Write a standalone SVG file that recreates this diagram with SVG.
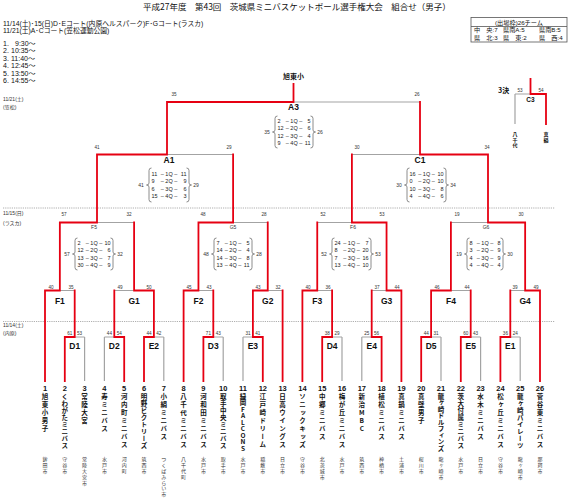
<svg xmlns="http://www.w3.org/2000/svg" width="570" height="500" viewBox="0 0 570 500">
<style>
text{font-family:"Liberation Sans","Noto Sans CJK JP",sans-serif;fill:#111}
.jp{font-family:"Noto Sans CJK JP","Liberation Sans",sans-serif}
.r{fill:none;stroke:#e60012;stroke-width:1.8;stroke-linecap:square}
.g{fill:none;stroke:#a3a3a3;stroke-width:1.2}
.dot{fill:none;stroke:#9a9a9a;stroke-width:0.8;stroke-dasharray:1.2 1}
.br{fill:none;stroke:#6e6e6e;stroke-width:0.8}
.sc{font-size:4.6px;text-anchor:middle;fill:#333}
.lb{font-size:8.5px;font-weight:bold;text-anchor:middle}
.lbs{font-size:5px;text-anchor:middle;fill:#333}
.q{font-size:5.5px;fill:#222}
.qm{text-anchor:middle}
.qe{text-anchor:end}
.tot{font-size:5px;text-anchor:middle;fill:#333}
.num{font-size:7.5px;font-weight:bold;text-anchor:middle}
.nm{font-family:"Noto Sans CJK JP",sans-serif;writing-mode:vertical-rl;text-orientation:upright;font-size:6.5px;font-weight:bold;letter-spacing:1.5px}
.n8{letter-spacing:0.6px}
.n9{letter-spacing:0px}
.n3{font-size:5px;letter-spacing:0.4px}
.ct{font-family:"Noto Sans CJK JP",sans-serif;writing-mode:vertical-rl;text-orientation:upright;font-size:5px;letter-spacing:0.8px;fill:#333}
.hd{font-size:6.8px}
.tm{font-size:7px}
.sm{font-size:5px;fill:#333}
.tb{fill:none;stroke:#555;stroke-width:0.8}
.tbt{font-size:6.2px}
</style>

<g id="header">
<text class="jp" x="143" y="9.5" font-size="8.5">平成27年度　第43回　茨城県ミニバスケットボール選手権大会　組合せ（男子）</text>
<text class="hd" x="3" y="25.5">11/14(土)･15(日)D･Eコート(内原ヘルスパーク)F･Gコート(ラスカ)</text>
<text class="hd" x="3" y="32.5">11/21(土)A･Cコート(笠松運動公園)</text>
<text class="tm" y="45.5"><tspan x="3">1.</tspan><tspan x="15">9:30～</tspan></text>
<text class="tm" y="53"><tspan x="3">2.</tspan><tspan x="11">10:35～</tspan></text>
<text class="tm" y="60.5"><tspan x="3">3.</tspan><tspan x="11">11:40～</tspan></text>
<text class="tm" y="68"><tspan x="3">4.</tspan><tspan x="11">12:45～</tspan></text>
<text class="tm" y="75.5"><tspan x="3">5.</tspan><tspan x="11">13:50～</tspan></text>
<text class="tm" y="83"><tspan x="3">6.</tspan><tspan x="11">14:55～</tspan></text>
<text class="sm" x="3" y="101">11/21(土)</text>
<text class="sm" x="3" y="108.7">(笠松)</text>
<text class="sm" x="3" y="215.3">11/15(日)</text>
<text class="sm" x="3" y="224.5">(ラスカ)</text>
<text class="sm" x="3" y="327">11/14(土)</text>
<text class="sm" x="3" y="335">(内原)</text>
</g>

<g id="quota">
<rect class="tb" x="471" y="17.5" width="96" height="24.5"/>
<line class="tb" x1="471" y1="26.5" x2="567" y2="26.5"/>
<text class="tbt" x="519" y="24.8" text-anchor="middle">(出場枠)26チーム</text>
<text class="tbt" x="474" y="32.3">中　央:7</text>
<text class="tbt" x="503" y="32.3">県南A:5</text>
<text class="tbt" x="539" y="32.3">県南B:5</text>
<text class="tbt" x="474" y="39.5">県　北:3</text>
<text class="tbt" x="503" y="39.5">県　東:2</text>
<text class="tbt" x="539" y="39.5">県　西:4</text>
</g>

<g id="dividers">
<line class="dot" x1="3" y1="208" x2="555" y2="208"/>
<line class="dot" x1="3" y1="321.5" x2="555" y2="321.5"/>
</g>

<g id="connectors">
<path class="g" d="M84.6,381V337 M104.4,381V337 M163.8,381V337 M223.2,381V337 M243,381V337 M342,381V337 M361.8,381V337 M441,381V337 M480.6,381V337 M520.2,381V337
M74.7,337H84.6 M104.4,337H114.3 M153.9,337H163.8 M213.3,337H223.2 M243,337H252.9 M332.1,337H342 M361.8,337H371.7 M431.1,337H441 M470.7,337H480.6 M510.3,337H520.2
M59.85,290.5H74.7 M114.3,290.5H134.1 M198.45,290.5H213.3 M267.75,290.5H282.6 M317.25,290.5H332.1 M371.7,290.5H386.55 M450.9,290.5H470.7 M510.3,290.5H525.15
M97,222.5H134.1 M233.1,222.5H267.75 M317.25,222.5H351.9 M450.9,222.5H488
M167,154.5H233.1 M351.9,154.5H420
M293.5,102H420
M515,94H530.5 M515,94V124"/>
<path class="r" d="M64.8,381V337 M124.2,381V337 M144,381V337 M203.4,381V337 M262.8,381V337 M322.2,381V337 M381.6,381V337 M421.2,381V337 M460.8,381V337 M500.4,381V337
M45,381V290.5 M183.6,381V290.5 M282.6,381V290.5 M302.4,381V290.5 M401.4,381V290.5 M540,381V290.5
M64.8,337H74.7 M114.3,337H124.2 M144,337H153.9 M203.4,337H213.3 M252.9,337H262.8 M322.2,337H332.1 M371.7,337H381.6 M421.2,337H431.1 M460.8,337H470.7 M500.4,337H510.3
M74.7,337V290.5 M114.3,337V290.5 M153.9,337V290.5 M213.3,337V290.5 M252.9,337V290.5 M332.1,337V290.5 M371.7,337V290.5 M431.1,337V290.5 M470.7,337V290.5 M510.3,337V290.5
M45,290.5H59.85 M134.1,290.5H153.9 M183.6,290.5H198.45 M252.9,290.5H267.75 M302.4,290.5H317.25 M386.55,290.5H401.4 M431.1,290.5H450.9 M525.15,290.5H540
M59.85,290.5V222.5 M134.1,290.5V222.5 M198.45,290.5V222.5 M267.75,290.5V222.5 M317.25,290.5V222.5 M386.55,290.5V222.5 M450.9,290.5V222.5 M525.15,290.5V222.5
M59.85,222.5H97 M198.45,222.5H233.1 M351.9,222.5H386.55 M488,222.5H525.15
M97,222.5V154.5 M233.1,222.5V154.5 M351.9,222.5V154.5 M488,222.5V154.5
M97,154.5H167 M420,154.5H488
M167,154.5V102 M420,154.5V102
M167,102H293.5 M293.5,102V84
M530.5,94H546 M546,94V124 M530.5,94V79"/>
</g>

<g id="winner">
<text class="jp" x="293.5" y="79" font-size="7" font-weight="bold" text-anchor="middle">旭東小</text>
</g>

<g id="A3">
<text class="lb" x="293.5" y="110">A3</text>
<text class="sc" x="174" y="95.5">35</text>
<text class="sc" x="417" y="95.5">26</text>
<path class="br" d="M277.5,116 Q275,116 275,118.5 V130 Q275,132 272.5,132 Q275,132 275,134 V145.5 Q275,148 277.5,148"/>
<path class="br" d="M310.5,116 Q313,116 313,118.5 V130 Q313,132 315.5,132 Q313,132 313,134 V145.5 Q313,148 310.5,148"/>
<text class="tot" x="267" y="133.8">35</text>
<text class="tot" x="320" y="133.8">26</text>
<text class="q" x="277.5" y="122.75">2</text><text class="q qm" x="294" y="122.75">– 1Q –</text><text class="q qe" x="310.5" y="122.75">5</text>
<text class="q" x="277.5" y="130.25">12</text><text class="q qm" x="294" y="130.25">– 2Q –</text><text class="q qe" x="310.5" y="130.25">6</text>
<text class="q" x="277.5" y="137.75">12</text><text class="q qm" x="294" y="137.75">– 3Q –</text><text class="q qe" x="310.5" y="137.75">4</text>
<text class="q" x="277.5" y="145.25">9</text><text class="q qm" x="294" y="145.25">– 4Q –</text><text class="q qe" x="310.5" y="145.25">11</text>
</g>

<g id="A1">
<text class="lb" x="169" y="163">A1</text>
<text class="sc" x="97" y="148.5">41</text>
<text class="sc" x="229" y="148.5">29</text>
<path class="br" d="M151.5,168 Q149,168 149,170.5 V183 Q149,185 146.5,185 Q149,185 149,187 V199.5 Q149,202 151.5,202"/>
<path class="br" d="M186.5,168 Q189,168 189,170.5 V183 Q189,185 191.5,185 Q189,185 189,187 V199.5 Q189,202 186.5,202"/>
<text class="tot" x="141" y="186.8">41</text>
<text class="tot" x="196" y="186.8">29</text>
<text class="q" x="151.5" y="175.75">11</text><text class="q qm" x="169" y="175.75">– 1Q –</text><text class="q qe" x="186.5" y="175.75">11</text>
<text class="q" x="151.5" y="183.25">9</text><text class="q qm" x="169" y="183.25">– 2Q –</text><text class="q qe" x="186.5" y="183.25">9</text>
<text class="q" x="151.5" y="190.75">6</text><text class="q qm" x="169" y="190.75">– 3Q –</text><text class="q qe" x="186.5" y="190.75">6</text>
<text class="q" x="151.5" y="198.25">15</text><text class="q qm" x="169" y="198.25">– 4Q –</text><text class="q qe" x="186.5" y="198.25">3</text>
</g>

<g id="C1">
<text class="lb" x="420" y="163">C1</text>
<text class="sc" x="357" y="148.5">30</text>
<text class="sc" x="487" y="148.5">34</text>
<path class="br" d="M409.5,168 Q407,168 407,170.5 V183 Q407,185 404.5,185 Q407,185 407,187 V199.5 Q407,202 409.5,202"/>
<path class="br" d="M443.5,168 Q446,168 446,170.5 V183 Q446,185 448.5,185 Q446,185 446,187 V199.5 Q446,202 443.5,202"/>
<text class="tot" x="399" y="186.8">30</text>
<text class="tot" x="453" y="186.8">34</text>
<text class="q" x="409.5" y="175.75">16</text><text class="q qm" x="426.5" y="175.75">– 1Q –</text><text class="q qe" x="443.5" y="175.75">10</text>
<text class="q" x="409.5" y="183.25">0</text><text class="q qm" x="426.5" y="183.25">– 2Q –</text><text class="q qe" x="443.5" y="183.25">10</text>
<text class="q" x="409.5" y="190.75">10</text><text class="q qm" x="426.5" y="190.75">– 3Q –</text><text class="q qe" x="443.5" y="190.75">8</text>
<text class="q" x="409.5" y="198.25">4</text><text class="q qm" x="426.5" y="198.25">– 4Q –</text><text class="q qe" x="443.5" y="198.25">6</text>
</g>

<g id="F5">
<text class="lbs" x="94" y="229">F5</text>
<text class="sc" x="64" y="215.5">57</text>
<text class="sc" x="129" y="215.5">32</text>
<path class="br" d="M77.5,238 Q75,238 75,240.5 V252 Q75,254 72.5,254 Q75,254 75,256 V267.5 Q75,270 77.5,270"/>
<path class="br" d="M110.5,238 Q113,238 113,240.5 V252 Q113,254 115.5,254 Q113,254 113,256 V267.5 Q113,270 110.5,270"/>
<text class="tot" x="67" y="255.8">57</text>
<text class="tot" x="120" y="255.8">32</text>
<text class="q" x="77.5" y="244.75">2</text><text class="q qm" x="94" y="244.75">– 1Q –</text><text class="q qe" x="110.5" y="244.75">10</text>
<text class="q" x="77.5" y="252.25">12</text><text class="q qm" x="94" y="252.25">– 2Q –</text><text class="q qe" x="110.5" y="252.25">6</text>
<text class="q" x="77.5" y="259.75">13</text><text class="q qm" x="94" y="259.75">– 3Q –</text><text class="q qe" x="110.5" y="259.75">7</text>
<text class="q" x="77.5" y="267.25">30</text><text class="q qm" x="94" y="267.25">– 4Q –</text><text class="q qe" x="110.5" y="267.25">9</text>
</g>

<g id="G5">
<text class="lbs" x="233" y="229">G5</text>
<text class="sc" x="203" y="215.5">48</text>
<text class="sc" x="264" y="215.5">28</text>
<path class="br" d="M216.5,238 Q214,238 214,240.5 V252 Q214,254 211.5,254 Q214,254 214,256 V267.5 Q214,270 216.5,270"/>
<path class="br" d="M249.5,238 Q252,238 252,240.5 V252 Q252,254 254.5,254 Q252,254 252,256 V267.5 Q252,270 249.5,270"/>
<text class="tot" x="206" y="255.8">48</text>
<text class="tot" x="259" y="255.8">28</text>
<text class="q" x="216.5" y="244.75">7</text><text class="q qm" x="233" y="244.75">– 1Q –</text><text class="q qe" x="249.5" y="244.75">5</text>
<text class="q" x="216.5" y="252.25">14</text><text class="q qm" x="233" y="252.25">– 2Q –</text><text class="q qe" x="249.5" y="252.25">4</text>
<text class="q" x="216.5" y="259.75">14</text><text class="q qm" x="233" y="259.75">– 3Q –</text><text class="q qe" x="249.5" y="259.75">8</text>
<text class="q" x="216.5" y="267.25">13</text><text class="q qm" x="233" y="267.25">– 4Q –</text><text class="q qe" x="249.5" y="267.25">11</text>
</g>

<g id="F6">
<text class="lbs" x="353" y="229">F6</text>
<text class="sc" x="323" y="215.5">52</text>
<text class="sc" x="382" y="215.5">53</text>
<path class="br" d="M334.5,238 Q332,238 332,240.5 V252 Q332,254 329.5,254 Q332,254 332,256 V267.5 Q332,270 334.5,270"/>
<path class="br" d="M368.5,238 Q371,238 371,240.5 V252 Q371,254 373.5,254 Q371,254 371,256 V267.5 Q371,270 368.5,270"/>
<text class="tot" x="324" y="255.8">52</text>
<text class="tot" x="378" y="255.8">53</text>
<text class="q" x="334.5" y="244.75">24</text><text class="q qm" x="351.5" y="244.75">– 1Q –</text><text class="q qe" x="368.5" y="244.75">7</text>
<text class="q" x="334.5" y="252.25">8</text><text class="q qm" x="351.5" y="252.25">– 2Q –</text><text class="q qe" x="368.5" y="252.25">20</text>
<text class="q" x="334.5" y="259.75">7</text><text class="q qm" x="351.5" y="259.75">– 3Q –</text><text class="q qe" x="368.5" y="259.75">16</text>
<text class="q" x="334.5" y="267.25">13</text><text class="q qm" x="351.5" y="267.25">– 4Q –</text><text class="q qe" x="368.5" y="267.25">10</text>
</g>

<g id="G6">
<text class="lbs" x="486" y="229">G6</text>
<text class="sc" x="457" y="215.5">19</text>
<text class="sc" x="521" y="215.5">30</text>
<path class="br" d="M469.5,238 Q467,238 467,240.5 V252 Q467,254 464.5,254 Q467,254 467,256 V267.5 Q467,270 469.5,270"/>
<path class="br" d="M500.5,238 Q503,238 503,240.5 V252 Q503,254 505.5,254 Q503,254 503,256 V267.5 Q503,270 500.5,270"/>
<text class="tot" x="459" y="255.8">19</text>
<text class="tot" x="510" y="255.8">30</text>
<text class="q" x="469.5" y="244.75">8</text><text class="q qm" x="485" y="244.75">– 1Q –</text><text class="q qe" x="500.5" y="244.75">8</text>
<text class="q" x="469.5" y="252.25">3</text><text class="q qm" x="485" y="252.25">– 2Q –</text><text class="q qe" x="500.5" y="252.25">9</text>
<text class="q" x="469.5" y="259.75">4</text><text class="q qm" x="485" y="259.75">– 3Q –</text><text class="q qe" x="500.5" y="259.75">9</text>
<text class="q" x="469.5" y="267.25">4</text><text class="q qm" x="485" y="267.25">– 4Q –</text><text class="q qe" x="500.5" y="267.25">4</text>
</g>

<g id="F1"><text class="lb" x="59.85" y="303.5">F1</text><text class="sc" x="51" y="288.8">40</text><text class="sc" x="71" y="288.8">35</text></g>
<g id="G1"><text class="lb" x="134.1" y="303.5">G1</text><text class="sc" x="120" y="288.8">49</text><text class="sc" x="149" y="288.8">50</text></g>
<g id="F2"><text class="lb" x="198.45" y="303.5">F2</text><text class="sc" x="189" y="288.8">45</text><text class="sc" x="209" y="288.8">43</text></g>
<g id="G2"><text class="lb" x="267.75" y="303.5">G2</text><text class="sc" x="258" y="288.8">43</text><text class="sc" x="278" y="288.8">32</text></g>
<g id="F3"><text class="lb" x="317.25" y="303.5">F3</text><text class="sc" x="308" y="288.8">40</text><text class="sc" x="328" y="288.8">36</text></g>
<g id="G3"><text class="lb" x="386.55" y="303.5">G3</text><text class="sc" x="377" y="288.8">37</text><text class="sc" x="397" y="288.8">44</text></g>
<g id="F4"><text class="lb" x="450.9" y="303.5">F4</text><text class="sc" x="437" y="288.8">46</text><text class="sc" x="467" y="288.8">44</text></g>
<g id="G4"><text class="lb" x="525.15" y="303.5">G4</text><text class="sc" x="515" y="288.8">39</text><text class="sc" x="536" y="288.8">49</text></g>

<g id="D1"><text class="lb" x="74.7" y="349">D1</text><text class="sc" x="69.8" y="334.6">61</text><text class="sc" x="79.6" y="334.6">53</text></g>
<g id="D2"><text class="lb" x="114.3" y="349">D2</text><text class="sc" x="109.4" y="334.6">44</text><text class="sc" x="119.2" y="334.6">54</text></g>
<g id="E2"><text class="lb" x="153.9" y="349">E2</text><text class="sc" x="149" y="334.6">44</text><text class="sc" x="158.8" y="334.6">42</text></g>
<g id="D3"><text class="lb" x="213.3" y="349">D3</text><text class="sc" x="208.4" y="334.6">71</text><text class="sc" x="218.2" y="334.6">43</text></g>
<g id="E3"><text class="lb" x="252.9" y="349">E3</text><text class="sc" x="248" y="334.6">31</text><text class="sc" x="257.8" y="334.6">41</text></g>
<g id="D4"><text class="lb" x="332.1" y="349">D4</text><text class="sc" x="327.2" y="334.6">38</text><text class="sc" x="337" y="334.6">29</text></g>
<g id="E4"><text class="lb" x="371.7" y="349">E4</text><text class="sc" x="366.8" y="334.6">25</text><text class="sc" x="376.6" y="334.6">56</text></g>
<g id="D5"><text class="lb" x="431.1" y="349">D5</text><text class="sc" x="426.2" y="334.6">44</text><text class="sc" x="436" y="334.6">31</text></g>
<g id="E5"><text class="lb" x="470.7" y="349">E5</text><text class="sc" x="465.8" y="334.6">60</text><text class="sc" x="475.6" y="334.6">43</text></g>
<g id="E1"><text class="lb" x="510.3" y="349">E1</text><text class="sc" x="505.4" y="334.6">36</text><text class="sc" x="515.2" y="334.6">24</text></g>

<g id="C3">
<text class="jp" x="498" y="93.3" font-size="7" font-weight="bold">3決</text>
<text class="sc" x="520" y="92">53</text>
<text class="sc" x="541" y="92">54</text>
<text x="530.5" y="101.5" font-size="6.5" font-weight="bold" text-anchor="middle">C3</text>
<text class="nm n3" x="515" y="132">八千代</text>
<text class="nm n3" x="546" y="132">真鍋</text>
</g>

<g id="t1"><text class="num" x="45" y="391">1</text><text class="nm" x="45" y="393">旭東小男子</text><text class="ct" x="45" y="457">鉾田市</text></g>
<g id="t2"><text class="num" x="64.8" y="391">2</text><text class="nm n8" x="64.8" y="393">くわがたミニバス</text><text class="ct" x="64.8" y="457">守谷市</text></g>
<g id="t3"><text class="num" x="84.6" y="391">3</text><text class="nm" x="84.6" y="393">常陸大宮</text><text class="ct" x="84.6" y="457">常陸大宮市</text></g>
<g id="t4"><text class="num" x="104.4" y="391">4</text><text class="nm" x="104.4" y="393">寿ミニバス</text><text class="ct" x="104.4" y="457">水戸市</text></g>
<g id="t5"><text class="num" x="124.2" y="391">5</text><text class="nm" x="124.2" y="393">河内町ミニバス</text><text class="ct" x="124.2" y="457">河内町</text></g>
<g id="t6"><text class="num" x="144" y="391">6</text><text class="nm n8" x="144" y="393">明野ビクトリーズ</text><text class="ct" x="144" y="457">筑西市</text></g>
<g id="t7"><text class="num" x="163.8" y="391">7</text><text class="nm" x="163.8" y="393">小絹ミニバス</text><text class="ct" x="163.8" y="457">つくばみらい市</text></g>
<g id="t8"><text class="num" x="183.6" y="391">8</text><text class="nm" x="183.6" y="393">八千代ミニバス</text><text class="ct" x="183.6" y="457">八千代町</text></g>
<g id="t9"><text class="num" x="203.4" y="391">9</text><text class="nm" x="203.4" y="393">河和田ミニバス</text><text class="ct" x="203.4" y="457">水戸市</text></g>
<g id="t10"><text class="num" x="223.2" y="391">10</text><text class="nm n8" x="223.2" y="393">取手中央ミニバス</text><text class="ct" x="223.2" y="457">取手市</text></g>
<g id="t11"><text class="num" x="243" y="391">11</text><text class="nm n9" x="243" y="393">緑岡FALCONS</text><text class="ct" x="243" y="457">水戸市</text></g>
<g id="t12"><text class="num" x="262.8" y="391">12</text><text class="nm" x="262.8" y="393">江戸崎ドリーム</text><text class="ct" x="262.8" y="457">稲敷市</text></g>
<g id="t13"><text class="num" x="282.6" y="391">13</text><text class="nm" x="282.6" y="393">日高ウイングス</text><text class="ct" x="282.6" y="457">日立市</text></g>
<g id="t14"><text class="num" x="302.4" y="391">14</text><text class="nm" x="302.4" y="393">ソニックキッズ</text><text class="ct" x="302.4" y="457">守谷市</text></g>
<g id="t15"><text class="num" x="322.2" y="391">15</text><text class="nm" x="322.2" y="393">中郷ミニバス</text><text class="ct" x="322.2" y="457">北茨城市</text></g>
<g id="t16"><text class="num" x="342" y="391">16</text><text class="nm" x="342" y="393">梅が丘ミニバス</text><text class="ct" x="342" y="457">水戸市</text></g>
<g id="t17"><text class="num" x="361.8" y="391">17</text><text class="nm" x="361.8" y="393">新治MBC</text><text class="ct" x="361.8" y="457">筑西市</text></g>
<g id="t18"><text class="num" x="381.6" y="391">18</text><text class="nm" x="381.6" y="393">植松ミニバス</text><text class="ct" x="381.6" y="457">神栖市</text></g>
<g id="t19"><text class="num" x="401.4" y="391">19</text><text class="nm" x="401.4" y="393">真鍋ミニバス</text><text class="ct" x="401.4" y="457">土浦市</text></g>
<g id="t20"><text class="num" x="421.2" y="391">20</text><text class="nm" x="421.2" y="393">真壁男子</text><text class="ct" x="421.2" y="457">桜川市</text></g>
<g id="t21"><text class="num" x="441" y="391">21</text><text class="nm n9" x="441" y="393">龍ヶ崎ドルフィンズ</text><text class="ct" x="441" y="457">龍ヶ崎市</text></g>
<g id="t22"><text class="num" x="460.8" y="391">22</text><text class="nm n8" x="460.8" y="393">茨大付属ミニバス</text><text class="ct" x="460.8" y="457">水戸市</text></g>
<g id="t23"><text class="num" x="480.6" y="391">23</text><text class="nm" x="480.6" y="393">水木ミニバス</text><text class="ct" x="480.6" y="457">日立市</text></g>
<g id="t24"><text class="num" x="500.4" y="391">24</text><text class="nm" x="500.4" y="393">松ヶ丘ミニバス</text><text class="ct" x="500.4" y="457">守谷市</text></g>
<g id="t25"><text class="num" x="520.2" y="391">25</text><text class="nm n8" x="520.2" y="393">龍ヶ崎パイレーツ</text><text class="ct" x="520.2" y="457">龍ヶ崎市</text></g>
<g id="t26"><text class="num" x="540" y="391">26</text><text class="nm" x="540" y="393">菅谷東ミニバス</text><text class="ct" x="540" y="457">那珂市</text></g>
</svg>
